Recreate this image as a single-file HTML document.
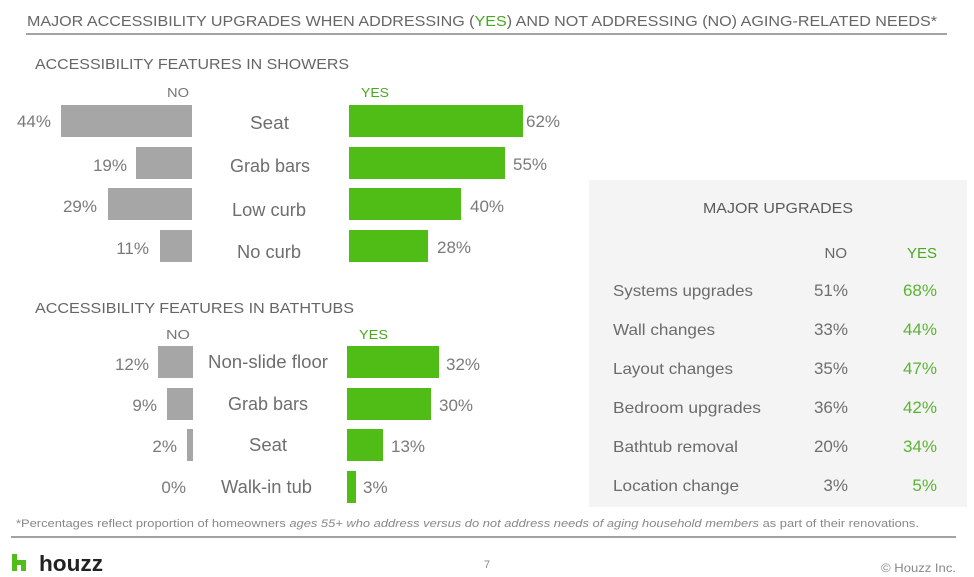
<!DOCTYPE html>
<html>
<head>
<meta charset="utf-8">
<style>
html,body{margin:0;padding:0;background:#fff;}
svg{display:block;}
text{font-family:"Liberation Sans",sans-serif;}
</style>
</head>
<body>
<svg width="974" height="577" viewBox="0 0 974 577" xmlns="http://www.w3.org/2000/svg">
<rect x="0" y="0" width="974" height="577" fill="#fff"/>

<!-- Title -->
<text x="27" y="26" font-size="15" fill="#666" textLength="910" lengthAdjust="spacingAndGlyphs">MAJOR ACCESSIBILITY UPGRADES WHEN ADDRESSING (<tspan fill="#4aa81f">YES</tspan>) AND NOT ADDRESSING (NO) AGING-RELATED NEEDS*</text>
<rect x="26" y="33" width="921" height="2" fill="#a3a3a3"/>

<!-- Showers -->
<text x="35" y="69" font-size="15" fill="#666" textLength="314" lengthAdjust="spacingAndGlyphs">ACCESSIBILITY FEATURES IN SHOWERS</text>
<text x="167" y="97" font-size="13" fill="#777" textLength="22" lengthAdjust="spacingAndGlyphs">NO</text>
<text x="361" y="97" font-size="13" fill="#4aa81f" textLength="28" lengthAdjust="spacingAndGlyphs">YES</text>

<g fill="#a6a6a6">
<rect x="61" y="105" width="131" height="32"/>
<rect x="136" y="147" width="56" height="32"/>
<rect x="108" y="188" width="84" height="32"/>
<rect x="160" y="230" width="32" height="32"/>
</g>
<g fill="#50bd17">
<rect x="349" y="105" width="174" height="32"/>
<rect x="349" y="147" width="156" height="32"/>
<rect x="349" y="188" width="112" height="32"/>
<rect x="349" y="230" width="79" height="32"/>
</g>

<g font-size="17" fill="#7a7a7a" text-anchor="end">
<text x="51" y="127">44%</text>
<text x="127" y="171">19%</text>
<text x="97" y="212">29%</text>
<text x="149" y="254">11%</text>
</g>
<g font-size="17" fill="#7a7a7a">
<text x="526" y="127">62%</text>
<text x="513" y="170">55%</text>
<text x="470" y="212">40%</text>
<text x="437" y="253">28%</text>
</g>
<g font-size="18" fill="#6e6e6e">
<text x="250" y="129" textLength="39" lengthAdjust="spacingAndGlyphs">Seat</text>
<text x="230" y="172" textLength="80" lengthAdjust="spacingAndGlyphs">Grab bars</text>
<text x="232" y="216" textLength="74" lengthAdjust="spacingAndGlyphs">Low curb</text>
<text x="237" y="258" textLength="64" lengthAdjust="spacingAndGlyphs">No curb</text>
</g>

<!-- Bathtubs -->
<text x="35" y="313" font-size="15" fill="#666" textLength="319" lengthAdjust="spacingAndGlyphs">ACCESSIBILITY FEATURES IN BATHTUBS</text>
<text x="166" y="339" font-size="13" fill="#777" textLength="24" lengthAdjust="spacingAndGlyphs">NO</text>
<text x="359" y="339" font-size="13" fill="#4aa81f" textLength="29" lengthAdjust="spacingAndGlyphs">YES</text>

<g fill="#a6a6a6">
<rect x="158" y="346" width="35" height="32"/>
<rect x="167" y="388" width="26" height="32"/>
<rect x="187" y="429" width="6" height="32"/>
</g>
<g fill="#50bd17">
<rect x="347" y="346" width="92" height="32"/>
<rect x="347" y="388" width="84" height="32"/>
<rect x="347" y="429" width="36" height="32"/>
<rect x="347" y="471" width="9" height="32"/>
</g>

<g font-size="17" fill="#7a7a7a" text-anchor="end">
<text x="149" y="370">12%</text>
<text x="157" y="411">9%</text>
<text x="177" y="452">2%</text>
<text x="186" y="493">0%</text>
</g>
<g font-size="17" fill="#7a7a7a">
<text x="446" y="370">32%</text>
<text x="439" y="411">30%</text>
<text x="391" y="452">13%</text>
<text x="363" y="493">3%</text>
</g>
<g font-size="18" fill="#6e6e6e">
<text x="208" y="368" textLength="120" lengthAdjust="spacingAndGlyphs">Non-slide floor</text>
<text x="228" y="410" textLength="80" lengthAdjust="spacingAndGlyphs">Grab bars</text>
<text x="249" y="451" textLength="38" lengthAdjust="spacingAndGlyphs">Seat</text>
<text x="221" y="493" textLength="91" lengthAdjust="spacingAndGlyphs">Walk-in tub</text>
</g>

<!-- Right panel -->
<rect x="589" y="180" width="378" height="327" fill="#f4f4f4"/>
<text x="703" y="213" font-size="15" fill="#5a5a5a" textLength="150" lengthAdjust="spacingAndGlyphs">MAJOR UPGRADES</text>
<text x="847" y="258" font-size="15" fill="#666" text-anchor="end">NO</text>
<text x="937" y="258" font-size="15" fill="#4aa81f" text-anchor="end">YES</text>

<g font-size="16" fill="#6b6b6b">
<text x="613" y="296" textLength="140" lengthAdjust="spacingAndGlyphs">Systems upgrades</text>
<text x="613" y="335" textLength="102" lengthAdjust="spacingAndGlyphs">Wall changes</text>
<text x="613" y="374" textLength="120" lengthAdjust="spacingAndGlyphs">Layout changes</text>
<text x="613" y="413" textLength="148" lengthAdjust="spacingAndGlyphs">Bedroom upgrades</text>
<text x="613" y="452" textLength="125" lengthAdjust="spacingAndGlyphs">Bathtub removal</text>
<text x="613" y="491" textLength="126" lengthAdjust="spacingAndGlyphs">Location change</text>
</g>
<g font-size="17" fill="#6e6e6e" text-anchor="end">
<text x="848" y="296">51%</text>
<text x="848" y="335">33%</text>
<text x="848" y="374">35%</text>
<text x="848" y="413">36%</text>
<text x="848" y="452">20%</text>
<text x="848" y="491">3%</text>
</g>
<g font-size="17" fill="#5cb333" text-anchor="end">
<text x="937" y="296">68%</text>
<text x="937" y="335">44%</text>
<text x="937" y="374">47%</text>
<text x="937" y="413">42%</text>
<text x="937" y="452">34%</text>
<text x="937" y="491">5%</text>
</g>

<!-- Footnote -->
<text x="16" y="527" font-size="11" fill="#888" textLength="903" lengthAdjust="spacingAndGlyphs">*Percentages reflect proportion of homeowners <tspan font-style="italic">ages 55+ who address versus do not address needs of aging household members</tspan> as part of their renovations.</text>
<rect x="11" y="536" width="945" height="2" fill="#a3a3a3"/>

<!-- Footer -->
<g fill="#52bd1a">
<rect x="12" y="554" width="5" height="17"/>
<rect x="17" y="560" width="9" height="5"/>
<rect x="21" y="560" width="5" height="11"/>
</g>
<text x="39" y="571" font-size="22" font-weight="bold" fill="#222" textLength="64" lengthAdjust="spacingAndGlyphs">houzz</text>
<text x="484" y="568" font-size="11" fill="#888">7</text>
<text x="881" y="572" font-size="12" fill="#888" textLength="75" lengthAdjust="spacingAndGlyphs">© Houzz Inc.</text>
</svg>
</body>
</html>
